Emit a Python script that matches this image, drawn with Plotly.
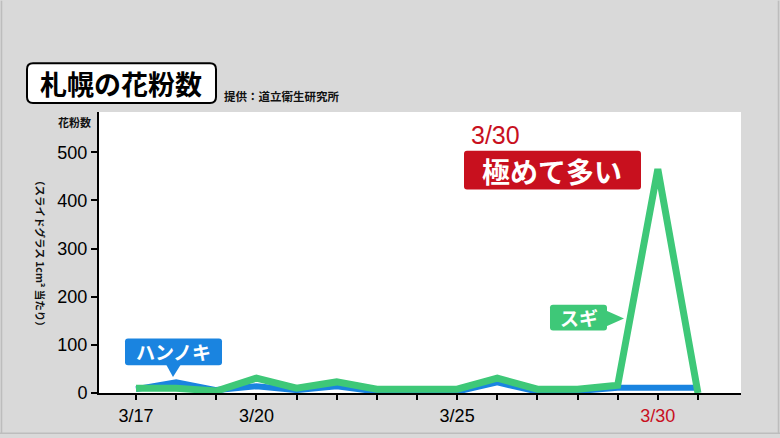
import plotly.graph_objects as go

# ---- data ----
dates = ["3/17", "3/18", "3/19", "3/20", "3/21", "3/22", "3/23", "3/24",
         "3/25", "3/26", "3/27", "3/28", "3/29", "3/30", "3/31"]
sugi = [10, 10, 4, 31, 10, 23, 8, 8, 8, 31, 8, 8, 16, 465, 0]
hannoki = [8, 22, 6, 14, 6, 14, 3, 3, 3, 22, 3, 4, 11, 11, 11]
labeled_ticks = {"3/17": "black", "3/20": "black", "3/25": "black", "3/30": "#c8101e"}
y_ticks = [0, 100, 200, 300, 400, 500]

GREEN = "#3ec878"
BLUE = "#1a84e0"
RED = "#c8101e"
BG = "#d9d9d9"
CJK = "Noto Sans CJK JP"
NUM = "Liberation Sans, Noto Sans CJK JP"

W, H = 780, 438
L, R, T, B = 99, 39, 112, 43
PW, PH = W - L - R, H - T - B

def px(x, y):
    return (x - L) / PW, (H - B - y) / PH

def rrect(x0, y0, x1, y1, r):
    def p(x, y):
        a, b = px(x, y)
        return f"{a:.5f},{b:.5f}"
    return (f"M {p(x0 + r, y0)} L {p(x1 - r, y0)} Q {p(x1, y0)} {p(x1, y0 + r)} "
            f"L {p(x1, y1 - r)} Q {p(x1, y1)} {p(x1 - r, y1)} "
            f"L {p(x0 + r, y1)} Q {p(x0, y1)} {p(x0, y1 - r)} "
            f"L {p(x0, y0 + r)} Q {p(x0, y0)} {p(x0 + r, y0)} Z")

def tri(pts):
    return "M " + " L ".join("%.5f,%.5f" % px(x, y) for x, y in pts) + " Z"

idx = list(range(len(dates)))
lab_vals = [i for i, d in enumerate(dates) if d in labeled_ticks]
lab_text = [f'<span style="color:{labeled_ticks[dates[i]]}">{dates[i]}</span>' for i in lab_vals]

fig = go.Figure()
fig.add_trace(go.Scatter(x=idx, y=hannoki, mode="lines",
                         line=dict(color=BLUE, width=6), name="ハンノキ",
                         hoverinfo="skip"))
fig.add_trace(go.Scatter(x=idx, y=sugi, mode="lines",
                         line=dict(color=GREEN, width=7), name="スギ",
                         hoverinfo="skip"))

shapes = []
annotations = []

def text_at(xp, yp, text, size, color, family=CJK, anchor="center", **kw):
    x, y = px(xp, yp)
    d = dict(x=x, y=y, xref="paper", yref="paper", text=text, showarrow=False,
             font=dict(family=family, size=size, color=color),
             xanchor=anchor, yanchor="middle")
    d.update(kw)
    annotations.append(d)

# title box
shapes.append(dict(type="path", xref="paper", yref="paper",
                   path=rrect(27, 63, 216, 103, 6),
                   fillcolor="white", line=dict(color="black", width=2)))
text_at(121, 83, "<b>札幌の花粉数</b>", 27, "black")
text_at(222, 96, "<b>提供：道立衛生研究所</b>", 11.5, "#111", anchor="left")
text_at(74, 122, "<b>花粉数</b>", 11, "#111")

# vertical unit label
text_at(40, 254, "<b>（スライドグラス 1cm² 当たり）</b>", 10.5, "#111", textangle=90)

# 3/30 red label
text_at(495, 135, "3/30", 25, RED, family=NUM)
shapes.append(dict(type="path", xref="paper", yref="paper",
                   path=rrect(464, 151, 641, 190, 3),
                   fillcolor=RED, line=dict(width=0)))
text_at(552, 171, "<b>極めて多い</b>", 28, "white")

# ハンノキ callout
shapes.append(dict(type="path", xref="paper", yref="paper",
                   path=rrect(125, 340, 222, 367, 3),
                   fillcolor=BLUE, line=dict(width=0)))
shapes.append(dict(type="path", xref="paper", yref="paper",
                   path=tri([(166, 366), (181, 366), (173, 379)]),
                   fillcolor=BLUE, line=dict(width=0)))
text_at(173.5, 353.5, "<b>ハンノキ</b>", 19, "white")

# スギ callout
shapes.append(dict(type="path", xref="paper", yref="paper",
                   path=rrect(550, 306, 607, 332, 3),
                   fillcolor=GREEN, line=dict(width=0)))
shapes.append(dict(type="path", xref="paper", yref="paper",
                   path=tri([(606, 312), (606, 328), (624, 320)]),
                   fillcolor=GREEN, line=dict(width=0)))
text_at(578.5, 319, "<b>スギ</b>", 19, "white")

# faint frame of the screenshot
for (x0, y0, x1, y1) in [(1.5, 0, 1.5, 436), (0, 435.5, 780, 435.5), (778.5, 0, 778.5, 436)]:
    a0, b0 = px(x0, y0)
    a1, b1 = px(x1, y1)
    shapes.append(dict(type="line", xref="paper", yref="paper", x0=a0, y0=b0, x1=a1, y1=b1,
                       line=dict(color="#bdbdbd", width=1.5)))

x0 = -37 / 40.14
fig.update_layout(
    width=W, height=H, autosize=False,
    margin=dict(l=L, r=R, t=T, b=B, pad=0),
    paper_bgcolor=BG, plot_bgcolor="white",
    showlegend=False,
    shapes=shapes, annotations=annotations,
    xaxis=dict(range=[x0, x0 + PW / 40.14], tickmode="array", tickvals=lab_vals, ticktext=lab_text,
               showgrid=False, zeroline=False, showline=True, linecolor="black", linewidth=2,
               ticks="outside", ticklen=5, tickwidth=2, tickcolor="black",
               minor=dict(ticks="outside", ticklen=5, tickwidth=2, tickcolor="black",
                          tickmode="array", tickvals=idx, showgrid=False),
               tickfont=dict(family=NUM, size=18, color="black"), fixedrange=True),
    yaxis=dict(range=[0, PH / 0.485], tickmode="array", tickvals=y_ticks,
               showgrid=False, zeroline=False, showline=True, linecolor="black", linewidth=2,
               ticks="outside", ticklen=6, tickwidth=1.5, tickcolor="black",
               tickfont=dict(family=NUM, size=18, color="black"), fixedrange=True),
)

fig.write_html("out.html", config={"displayModeBar": False},
               post_script="document.body.style.margin='0';document.body.style.padding='0';")
